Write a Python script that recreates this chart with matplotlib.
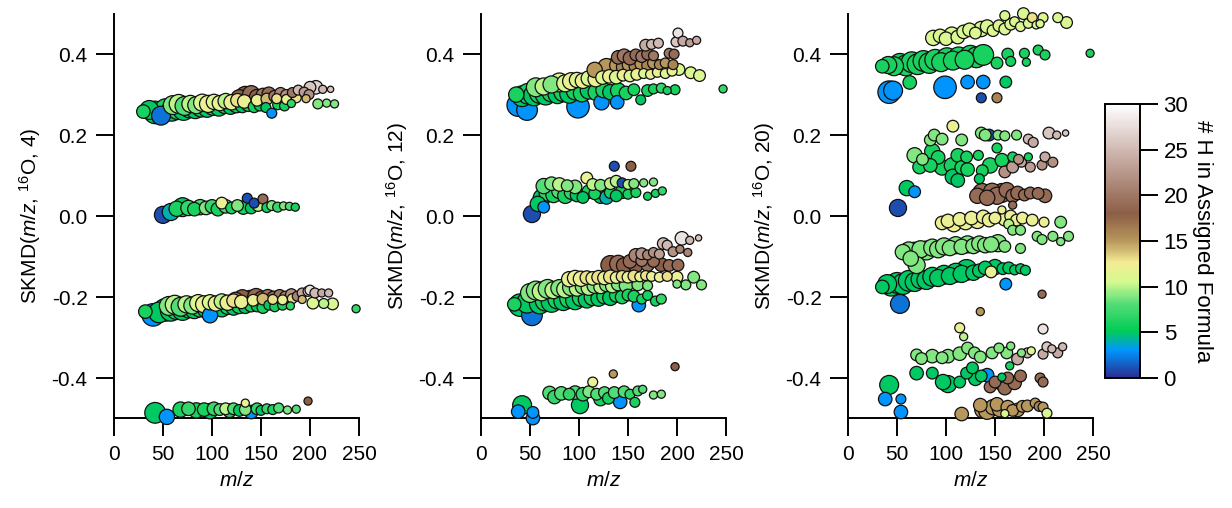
import matplotlib
matplotlib.use("Agg")
import matplotlib.pyplot as plt
import numpy as np
from matplotlib.colors import LinearSegmentedColormap

plt.rcParams['font.family'] = ['Liberation Sans', 'DejaVu Sans']
plt.rcParams['font.size'] = 15
plt.rcParams['axes.unicode_minus'] = False
plt.rcParams['mathtext.fontset'] = 'custom'
plt.rcParams['mathtext.rm'] = 'Liberation Sans'
plt.rcParams['mathtext.it'] = 'Liberation Sans:italic'

# rows: (m/z, SKMD, #H, relative signal)
# ---- panel 1 : SKMD(m/z, 16O, 4)
a1 = [(30,.258,6,5),(36,.262,5,8),(42,.256,5,10),(48,.248,2,8),(53,.262,6,10),(59,.26,5,9),(65,.264,6,9),
      (71,.262,5,9),(77,.266,6,8),(83,.264,5,8),(89,.268,6,8),(95,.265,5,7),(101,.27,6,7),(107,.268,5,7),
      (113,.272,6,6),(119,.27,5,6),(125,.274,6,6),(131,.272,5,5),(137,.275,6,5),(143,.27,6,4),(149,.274,5,4),
      (155,.268,5,3),(161,.254,3,3),(167,.275,6,3),(174,.272,6,3),(181,.278,7,2),
      (60,.274,9,8),(66,.277,10,8),(72,.272,8,8),(78,.277,10,7),(84,.274,9,7),(90,.28,11,7),(96,.277,12,7),
      (102,.282,11,6),(108,.279,12,6),(114,.284,10,6),(120,.281,12,6),(126,.286,13,5),(133,.283,12,5),
      (146,.286,12,4),(156,.289,14,4),(166,.29,13,3),(176,.288,12,3),(186,.292,13,3),(196,.29,14,2),
      (208,.277,9,3),(217,.279,9,2),(225,.277,9,2),
      (128,.291,18,7),(134,.297,18,8),(140,.301,19,7),(146,.294,18,6),(152,.299,20,5),(158,.302,19,5),
      (164,.296,20,4),(170,.303,21,4),(176,.298,22,4),(182,.305,20,3),(188,.311,25,3),(194,.306,23,3),
      (199,.3,22,3),(200,.318,26,4),(206,.318,27,5),(213,.313,25,2),(221,.313,26,1)]
b1 = [(50,.003,1,7),(58,.01,4,7),(64,.018,6,6),(70,.022,5,8),(76,.02,7,6),(82,.017,6,5),(88,.022,8,6),
      (94,.02,9,5),(100,.024,7,5),(106,.017,6,5),(110,.032,12,4),(114,.024,8,5),(120,.02,6,4),(126,.026,9,4),
      (132,.021,6,5),(136,.044,1,3),(140,.02,5,4),(143,.032,1,3),(147,.026,10,4),(152,.042,19,3),(156,.021,6,3),
      (161,.026,9,3),(167,.022,7,3),(173,.025,9,2),(179,.024,8,2),(185,.022,6,2)]
c1 = [(32,-.236,6,5),(40,-.244,3,10),(46,-.238,5,9),(52,-.232,6,10),(58,-.234,5,9),(64,-.23,6,9),(70,-.232,5,9),
      (76,-.228,6,8),(82,-.23,5,8),(88,-.226,6,8),(94,-.23,5,7),(98,-.245,3,6),(104,-.226,6,7),(110,-.228,5,7),
      (116,-.224,6,6),(122,-.226,5,6),(128,-.222,6,6),(134,-.224,5,5),(140,-.22,6,5),(146,-.222,5,4),
      (152,-.226,6,4),(158,-.22,5,3),(164,-.224,6,3),(172,-.22,6,3),(180,-.222,7,2),(247,-.229,7,2),
      (56,-.222,9,8),(62,-.219,10,8),(68,-.224,8,8),(74,-.218,10,7),(80,-.221,9,7),(86,-.215,11,7),
      (92,-.218,12,7),(98,-.213,11,6),(104,-.216,12,6),(110,-.211,10,6),(116,-.214,12,6),(122,-.209,13,5),
      (130,-.212,12,5),(142,-.208,12,4),(152,-.205,14,4),(162,-.206,13,3),(172,-.207,12,3),(182,-.204,13,3),
      (192,-.206,14,2),(203,-.215,11,4),(214,-.216,10,3),(223,-.217,11,4),
      (124,-.207,17,6),(131,-.203,18,7),(139,-.207,17,8),(145,-.2,19,7),(151,-.204,18,6),(157,-.198,20,5),
      (163,-.202,19,5),(169,-.196,20,4),(175,-.2,21,4),(181,-.194,22,4),(187,-.198,21,3),(192,-.19,24,3),
      (198,-.186,26,3),(200,-.183,28,3),(205,-.19,25,3),(212,-.19,24,2),(219,-.19,25,2)]
d1 = [(42,-.486,5,9),(54,-.496,3,6),(68,-.478,6,6),(76,-.476,7,5),(84,-.48,6,6),(92,-.478,6,5),(98,-.482,5,6),
      (102,-.476,7,5),(108,-.478,8,4),(114,-.476,10,4),(118,-.481,6,5),(122,-.476,8,4),(128,-.48,5,4),
      (134,-.462,12,2),(134,-.478,9,4),(140,-.484,3,5),(146,-.476,7,4),(150,-.48,5,3),(156,-.476,7,3),
      (162,-.478,6,3),(168,-.474,8,3),(177,-.479,9,2),(186,-.477,8,2),(198,-.457,18,2)]

# ---- panel 2 : SKMD(m/z, 16O, 12)
a2 = [(38,.274,3,10),(47,.262,3,9),(99,.27,3,10),(123,.281,3,6),(139,.281,3,5),
      (36,.3,6,6),(42,.296,5,9),(48,.302,6,9),(54,.298,5,9),(60,.304,6,9),(66,.3,5,9),(72,.305,6,8),
      (78,.301,5,8),(84,.306,6,8),(90,.302,5,8),(96,.308,6,7),(103,.303,6,7),(110,.31,5,7),(118,.306,6,7),
      (125,.311,6,6),(132,.306,5,6),(140,.31,6,6),(148,.304,6,5),(156,.312,6,4),(163,.287,5,3),(170,.31,6,4),
      (176,.314,6,3),(184,.316,7,3),(190,.31,6,2),(198,.312,6,3),(247,.314,7,2),
      (56,.318,9,8),(64,.32,10,7),(72,.325,9,7),(80,.33,11,8),(86,.328,11,7),(92,.333,12,7),(98,.336,11,6),
      (104,.334,12,6),(110,.34,11,6),(117,.338,12,6),(124,.342,11,5),(131,.345,12,5),(138,.343,11,5),
      (145,.348,12,4),(152,.346,11,4),(159,.35,12,4),(166,.352,11,3),(173,.35,12,3),(180,.355,12,3),
      (188,.352,11,3),(195,.358,12,3),(202,.362,11,4),(214,.354,11,4),(223,.347,11,4),
      (116,.361,15,6),(128,.368,15,7),(134,.365,16,8),(140,.372,15,7),(146,.368,16,6),(152,.374,15,6),
      (158,.37,16,5),(164,.376,15,5),(170,.372,16,4),(176,.378,15,4),(182,.374,16,3),(188,.378,15,3),
      (196,.374,16,3),
      (140,.392,19,5),(146,.396,20,5),(152,.39,19,5),(158,.398,19,4),(164,.394,20,4),(170,.4,19,4),
      (176,.396,20,3),(192,.402,20,3),(197,.4,19,3),
      (168,.422,24,4),(174,.424,25,3),(181,.427,25,3),(199,.43,26,3),(201,.452,28,3),(206,.432,24,3),
      (213,.428,23,2),(220,.434,24,2)]
b2 = [(52,.005,1,7),(58,.03,5,6),(64,.022,3,4),(62,.045,5,7),(68,.058,7,7),(74,.052,6,6),(80,.062,8,6),
      (86,.05,6,6),(92,.058,7,5),(98,.052,5,5),(104,.046,5,4),(110,.06,6,5),(116,.055,6,4),(122,.048,5,5),
      (128,.046,4,5),(132,.058,6,4),(138,.05,5,4),(144,.06,6,5),(150,.054,6,3),(158,.058,6,3),(170,.049,6,2),
      (178,.056,6,2),
      (64,.074,8,6),(72,.08,9,5),(80,.078,10,5),(88,.075,9,4),(96,.072,9,5),(108,.094,12,4),(114,.078,10,4),
      (122,.076,9,4),(132,.08,10,4),(138,.086,10,4),(144,.082,1,3),(150,.078,10,3),(156,.08,9,3),
      (166,.082,9,2),(176,.084,9,2),(185,.062,7,2),(136,.123,1,3),(153,.123,18,3)]
c2 = [(52,-.245,2,9),(161,-.22,3,5),
      (34,-.218,6,5),(40,-.22,5,10),(47,-.214,5,9),(54,-.212,6,10),(60,-.216,5,9),(66,-.209,6,9),
      (72,-.212,5,9),(78,-.206,6,8),(84,-.21,5,8),(90,-.204,6,8),(96,-.208,5,8),(102,-.202,6,7),
      (108,-.206,5,7),(114,-.2,6,7),(120,-.204,5,6),(126,-.198,6,6),(132,-.202,5,6),(138,-.196,6,5),
      (144,-.2,6,5),(150,-.195,6,4),(156,-.198,6,4),(164,-.205,6,3),(170,-.196,6,3),(178,-.21,6,3),
      (184,-.205,7,3),
      (50,-.19,9,8),(56,-.184,9,8),(62,-.186,10,8),(68,-.18,9,8),(74,-.183,10,7),(80,-.178,9,7),
      (86,-.181,10,7),(92,-.176,9,7),(98,-.179,10,6),(104,-.174,9,6),(110,-.177,10,6),(116,-.172,9,6),
      (122,-.175,10,5),(128,-.17,9,5),(134,-.173,10,5),(140,-.168,9,5),(148,-.172,9,5),(160,-.17,9,4),
      (170,-.172,9,3),(200,-.168,9,2),(209,-.17,9,3),(217,-.151,9,4),(225,-.17,9,3),
      (90,-.156,12,6),(96,-.153,12,6),(102,-.155,12,6),(108,-.152,13,5),(114,-.154,12,5),(120,-.151,13,5),
      (126,-.153,12,5),(132,-.15,13,5),(138,-.152,12,4),(144,-.149,13,4),(150,-.151,12,4),(156,-.148,13,4),
      (162,-.15,12,3),(168,-.147,13,3),(174,-.149,12,3),(182,-.151,12,3),(190,-.149,13,3),(200,-.151,12,4),
      (132,-.121,18,8),(140,-.118,19,7),(146,-.122,18,6),(152,-.112,19,5),(158,-.12,18,6),(164,-.11,20,4),
      (170,-.12,19,5),(176,-.112,19,4),(184,-.12,18,5),(192,-.122,19,4),(201,-.121,19,4),
      (158,-.097,21,5),(164,-.093,22,4),(170,-.096,21,3),(176,-.09,22,3),(182,-.094,23,3),(186,-.068,25,4),
      (190,-.072,25,3),(196,-.088,22,3),(203,-.082,21,2),(211,-.09,21,2),(205,-.055,28,5),(213,-.06,25,2),
      (222,-.054,26,1)]
d2 = [(38,-.483,3,5),(42,-.467,5,8),(53,-.485,3,4),(53,-.499,3,5),
      (70,-.437,8,5),(75,-.447,7,5),(82,-.438,8,5),(90,-.44,7,4),(96,-.436,8,5),(101,-.467,5,7),
      (104,-.44,7,5),(110,-.434,9,4),(114,-.41,12,3),(118,-.44,8,4),(122,-.452,6,5),(126,-.436,8,4),
      (130,-.45,6,4),(135,-.39,15,2),(136,-.436,8,4),(142,-.459,3,5),(146,-.434,8,4),(152,-.44,7,3),
      (157,-.46,6,3),(160,-.432,8,3),(165,-.428,8,2),(176,-.442,9,2),(184,-.44,9,2),(198,-.372,18,2)]

# ---- panel 3 : SKMD(m/z, 16O, 20)
a3 = [(87,.44,11,6),(94,.445,11,5),(100,.438,11,5),(106,.448,11,6),(112,.442,11,5),(118,.455,11,5),
      (124,.46,11,5),(130,.452,11,4),(136,.462,11,6),(142,.468,11,5),(148,.458,11,4),(154,.47,11,4),
      (160,.462,11,4),(166,.474,11,4),(170,.48,11,3),(176,.468,11,3),(179,.5,11,4),(184,.476,11,3),
      (188,.49,13,3),(192,.472,11,2),(199,.49,11,3),(214,.49,11,3),(223,.478,11,4),(160,.495,11,3),
      (196,.475,11,2),
      (35,.37,6,5),(41,.373,6,7),(47,.37,6,8),(53,.376,6,9),(59,.372,6,9),(65,.38,6,9),(71,.375,6,9),
      (77,.383,6,9),(83,.378,6,9),(89,.386,6,9),(95,.38,6,8),(101,.39,6,9),(107,.384,6,8),(113,.392,6,9),
      (119,.386,6,8),(125,.396,6,9),(131,.392,6,9),(138,.398,6,9),(63,.33,6,5),(152,.378,6,4),(161,.331,5,4),
      (163,.4,6,4),(166,.382,6,3),(180,.402,6,3),(182,.38,6,2),(194,.41,6,3),(201,.398,6,3),(247,.402,6,2),
      (42,.306,3,10),(46,.31,3,8),(99,.318,3,10),(122,.331,3,5),(138,.331,3,5),(136,.292,1,3),(152,.292,16,3)]
b3 = [(51,.02,1,7),(60,.069,5,6),(68,.06,3,4),
      (107,.222,12,4),(144,.2,1,4),(205,.205,26,4),(213,.2,25,2),(222,.205,26,1),
      (84,.188,9,4),(88,.2,9,4),(96,.19,9,4),(116,.188,9,4),(136,.205,9,4),(140,.2,9,4),(153,.2,9,3),
      (160,.198,9,3),(172,.2,9,3),(184,.19,25,3),(189,.182,24,3),
      (68,.15,9,6),(76,.14,9,4),(86,.16,6,6),(92,.145,6,5),(112,.15,6,5),(121,.146,6,4),(133,.15,6,3),
      (152,.168,6,3),(157,.138,6,5),(168,.146,6,3),(184,.146,6,2),
      (73,.121,6,5),(84,.125,6,5),(96,.12,6,6),(106,.125,6,6),(116,.12,6,5),(122,.115,6,5),(137,.112,6,4),
      (145,.125,6,6),(107,.097,5,6),(112,.088,5,5),(134,.092,5,3),
      (160,.109,22,4),(168,.121,23,4),(177,.133,24,3),(186,.121,23,3),(198,.126,22,3),(201,.146,24,3),
      (209,.133,22,3),(174,.14,22,3),
      (132,.05,19,6),(137,.057,19,8),(142,.045,19,6),(147,.06,19,7),(152,.05,19,7),(157,.057,19,8),
      (162,.064,19,6),(168,.05,19,5),(173,.057,19,5),(180,.052,19,4),(186,.057,19,4),(194,.056,19,4),
      (201,.05,19,5),(168,.027,19,2)]
c3 = [(53,-.217,2,8),(161,-.168,3,4),(198,-.193,19,2),(135,-.236,15,2),
      (96,-.017,12,5),(102,-.012,12,5),(108,-.02,12,6),(114,-.008,12,5),(120,-.015,12,6),(126,-.005,12,5),
      (132,-.012,12,6),(138,-.002,12,5),(144,-.01,12,5),(150,-.005,12,4),(157,.015,12,2),(160,-.008,12,5),
      (166,.0,12,4),(172,-.01,12,4),(178,-.005,12,4),(188,-.01,12,4),(200,-.015,12,3),(217,-.015,9,4),
      (164,-.02,10,3),
      (56,-.089,9,6),(62,-.085,9,7),(68,-.088,9,8),(74,-.082,9,7),(80,-.085,9,8),(86,-.078,9,7),
      (92,-.082,9,7),(98,-.075,9,7),(104,-.079,9,6),(110,-.072,9,7),(116,-.076,9,6),(122,-.07,9,7),
      (128,-.074,9,6),(134,-.068,9,6),(140,-.072,9,6),(146,-.07,9,6),(153,-.067,9,7),(160,-.075,9,4),
      (168,-.035,9,3),(176,-.035,9,3),(176,-.08,9,3),(193,-.05,9,3),(198,-.058,9,3),(209,-.05,9,3),
      (217,-.063,9,2),(225,-.05,9,3),(70,-.121,9,7),(64,-.105,9,6),
      (35,-.175,5,5),(40,-.168,5,8),(44,-.172,5,9),(50,-.165,5,9),(56,-.168,5,9),(62,-.16,5,9),
      (68,-.163,5,8),(74,-.156,5,8),(80,-.158,5,8),(86,-.15,5,8),(92,-.153,5,7),(98,-.145,5,8),
      (104,-.148,5,7),(110,-.14,5,8),(116,-.143,5,7),(121,-.133,5,9),(128,-.14,5,6),(134,-.135,5,5),
      (140,-.128,5,5),(146,-.138,12,4),(150,-.126,5,6),(158,-.13,5,4),(164,-.128,5,4),(170,-.133,5,3),
      (176,-.13,5,3),(181,-.134,5,3)]
d3 = [(114,-.276,12,3),(118,-.298,10,2),(199,-.279,28,3),
      (70,-.343,9,4),(75,-.352,9,4),(86,-.346,9,5),(96,-.35,9,4),(102,-.346,9,5),(114,-.34,9,5),
      (122,-.326,9,4),(129,-.338,9,4),(135,-.348,9,4),(147,-.338,9,4),(154,-.326,9,3),(162,-.338,9,4),
      (166,-.321,9,2),(177,-.338,9,2),(187,-.333,11,2),
      (173,-.353,24,4),(183,-.338,25,3),(199,-.341,24,3),(203,-.323,26,3),(208,-.328,25,2),(214,-.338,24,3),
      (219,-.323,25,2),
      (70,-.388,5,5),(86,-.388,5,4),(97,-.41,5,6),(102,-.415,5,7),(114,-.41,5,4),(121,-.388,5,4),
      (127,-.375,5,4),(130,-.402,5,5),(136,-.395,5,4),(142,-.393,3,5),(157,-.398,5,2),(165,-.37,6,2),
      (42,-.417,5,8),(38,-.452,3,5),(54,-.452,3,3),(54,-.484,3,5),
      (145,-.422,19,4),(150,-.41,19,4),(155,-.412,19,5),(160,-.425,19,5),(163,-.4,19,4),(170,-.412,19,5),
      (176,-.395,19,4),(196,-.4,19,3),(199,-.41,19,3),
      (116,-.489,15,5),(135,-.467,15,5),(138,-.478,15,7),(142,-.481,15,7),(148,-.472,15,6),(152,-.465,15,5),
      (155,-.477,15,6),(163,-.472,15,5),(168,-.48,15,4),(173,-.479,15,5),(178,-.47,15,4),(183,-.469,15,4),
      (191,-.462,15,3),(195,-.47,16,3),(199,-.472,15,3),(203,-.487,11,3),(160,-.488,11,2)]

panels = [(a1 + b1 + c1 + d1, 4), (a2 + b2 + c2 + d2, 12), (a3 + b3 + c3 + d3, 20)]

# terrain-like colour table for #H
cmap = LinearSegmentedColormap.from_list('hterrain', [
    (0.00, '#2b2c8c'), (0.10, '#0096ff'), (0.17, '#00cc55'), (0.27, '#55dd77'),
    (0.35, '#d4fa90'), (0.42, '#f3ec94'), (0.50, '#b8985c'), (0.60, '#8c5e46'),
    (0.80, '#c6aaa2'), (1.00, '#ffffff')])

fig = plt.figure(figsize=(12.32, 5.08), dpi=100)
lefts = [0.0925, 0.3904, 0.6883]

for (rows, n), left in zip(panels, lefts):
    arr = np.array(rows, dtype=float)
    order = np.argsort(-arr[:, 3], kind='stable')
    arr = arr[order]
    d = 4.5 + 1.8 * arr[:, 3]
    ax = fig.add_axes([left, 0.1762, 0.1989, 0.797])
    sc = ax.scatter(arr[:, 0], arr[:, 1], c=arr[:, 2], s=(d * 0.72) ** 2, cmap=cmap, vmin=0, vmax=30,
                    edgecolors='#111111', linewidths=0.9, clip_on=False, zorder=3)
    ax.set_xlim(0, 250)
    ax.set_ylim(-0.5, 0.5)
    ax.set_xticks([0, 50, 100, 150, 200, 250])
    ax.set_yticks([-0.4, -0.2, 0.0, 0.2, 0.4])
    ax.set_yticklabels(['-0.4', '-0.2', '0.0', '0.2', '0.4'])
    for s in ['top', 'right']:
        ax.spines[s].set_visible(False)
    for s in ['left', 'bottom']:
        ax.spines[s].set_linewidth(1.4)
    ax.tick_params(direction='out', length=13, width=1.4, labelsize=15, pad=6)
    ax.set_xlabel(r'$m/z$', fontsize=15, labelpad=5)
    ax.set_ylabel(r'SKMD($m/z$, $^{16}$O, %d)' % n, fontsize=15, labelpad=6)

cax = fig.add_axes([0.8969, 0.2559, 0.0284, 0.539])
cb = fig.colorbar(sc, cax=cax, ticks=[0, 5, 10, 15, 20, 25, 30])
cb.outline.set_linewidth(1.4)
cax.tick_params(direction='out', length=13, width=1.4, labelsize=16, pad=4)
cb.set_label('# H in Assigned Formula', rotation=270, fontsize=16, labelpad=18)

fig.savefig('out.png', dpi=100)
